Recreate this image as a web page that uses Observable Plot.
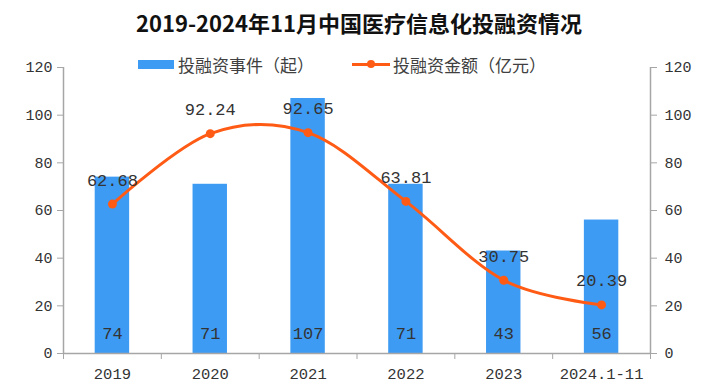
<!DOCTYPE html>
<html><head><meta charset="utf-8">
<script src="https://cdn.jsdelivr.net/npm/d3@7"></script>
<script src="https://cdn.jsdelivr.net/npm/@observablehq/plot@0.6"></script>
<style>
body{margin:0;background:#fff;}
#wrap{position:relative;width:718px;height:384px;font-family:"Noto Sans CJK SC",sans-serif;}
#title{height:44px;line-height:44px;text-align:center;font-size:22px;font-weight:bold;color:#111;}
#legend{position:absolute;top:53px;left:138px;display:flex;align-items:center;font-size:17px;color:#404040;height:22px;}
.sw{display:inline-block;}
</style></head>
<body><div id="wrap">
<div id="title">2019-2024年11月中国医疗信息化投融资情况</div>
<div id="legend">
  <span class="sw" style="width:36px;height:9px;background:#3e9bf3;margin-right:4px;"></span><span>投融资事件（起）</span>
  <span class="sw" style="width:38px;height:10px;margin-left:38px;margin-right:3px;position:relative;">
    <span style="position:absolute;left:0;top:3.5px;width:38px;height:3px;background:#ff5b15;"></span>
    <span style="position:absolute;left:15px;top:1px;width:8px;height:8px;border-radius:4px;background:#ff5b15;"></span>
  </span><span>投融资金额（亿元）</span>
</div>
<div id="chart"></div>
</div>
<script>
const categories = ["2019","2020","2021","2022","2023","2024.1-11"];
const events = [74, 71, 107, 71, 43, 56];
const amounts = [62.68, 92.24, 92.65, 63.81, 30.75, 20.39];
const amountLabels = ["62.68","92.24","92.65","63.81","30.75","20.39"];
const yTicks = [0, 20, 40, 60, 80, 100, 120];

const rows = categories.map((c, i) => ({c, i, x: i + 0.5, ev: events[i], am: amounts[i], aml: amountLabels[i]}));
const half = 0.176;
const gray = "#a6a6a6";
const txt = "#333";
const mono = "'Liberation Mono', 'DejaVu Sans Mono', monospace";

const plot = Plot.plot({
  width: 718,
  height: 340,
  marginLeft: 63,
  marginRight: 68,
  marginTop: 23,
  marginBottom: 31,
  style: {fontFamily: mono, fontSize: "15px", color: txt, background: "#fff"},
  x: {domain: [0, 6], axis: null},
  y: {domain: [0, 120], axis: null},
  marks: [
    Plot.rectY(rows, {x1: d => d.x - half, x2: d => d.x + half, y: "ev", fill: "#3e9bf3"}),
    Plot.ruleX([0, 6], {stroke: gray, strokeWidth: 1.5}),
    Plot.ruleY([0], {stroke: gray, strokeWidth: 1.5}),
    Plot.axisY({ticks: yTicks, anchor: "left", tickSize: 6, tickPadding: 5, stroke: gray, fill: txt, fontSize: 15, fontFamily: mono, label: null}),
    Plot.axisY({ticks: yTicks, anchor: "right", tickSize: 6, tickPadding: 8, stroke: gray, fill: txt, fontSize: 15, fontFamily: mono, label: null}),
    Plot.axisX({ticks: d3.range(0, 7), tickSize: 6, stroke: gray, text: null, label: null}),
    Plot.axisX({ticks: rows.map(d => d.x), tickSize: 0, tickPadding: 14, tickFormat: v => categories[Math.floor(v)], fill: txt, fontSize: 15.5, fontFamily: mono, label: null}),
    Plot.line(rows, {x: "x", y: "am", stroke: "#ff5b15", strokeWidth: 3, curve: "cardinal"}),
    Plot.dot(rows, {x: "x", y: "am", r: 4.5, fill: "#ff5b15"}),
    Plot.text(rows, {x: "x", y: "am", text: "aml", dy: -24, fontSize: 17, fontFamily: mono, fill: txt}),
    Plot.text(rows, {x: "x", y: 0, text: d => String(d.ev), dy: -20, fontSize: 17, fontFamily: mono, fill: txt})
  ]
});
document.getElementById("chart").appendChild(plot);
</script>
</body></html>
